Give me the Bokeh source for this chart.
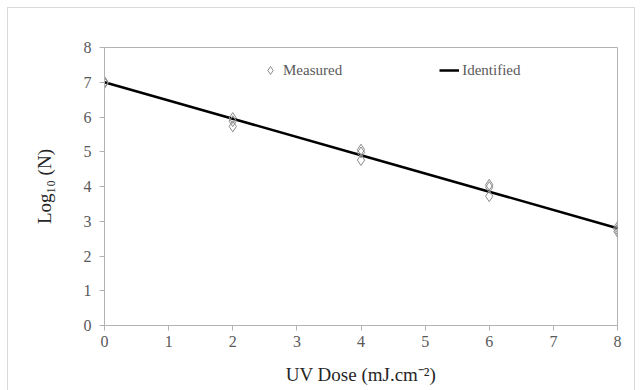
from bokeh.plotting import figure
from bokeh.models import ColumnDataSource, Range1d, FixedTicker, Legend, LegendItem, InlineStyleSheet
from bokeh.embed import file_html
from bokeh.resources import INLINE

# Data
dose_measured = [0, 0, 0, 2, 2, 2, 4, 4, 4, 6, 6, 6, 8, 8, 8]
log_measured = [7.0, 7.0, 6.98, 5.97, 5.88, 5.73, 5.06, 4.98, 4.76, 4.05, 3.98, 3.72, 2.83, 2.76, 2.70]
dose_identified = [0, 2, 4, 6, 8]
log_identified = [7.0, 5.95, 4.9, 3.85, 2.8]
x_ticks = [0, 1, 2, 3, 4, 5, 6, 7, 8]
y_ticks = [0, 1, 2, 3, 4, 5, 6, 7, 8]

FONT = "Liberation Serif"
GRAY = "#595959"
AXIS = "#B3B3B3"

p = figure(width=641, height=390, output_backend="svg", toolbar_location=None,
           x_range=Range1d(0, 8), y_range=Range1d(0, 8),
           min_border_left=104, min_border_right=24, min_border_top=47, min_border_bottom=65)
p.grid.visible = False
p.outline_line_color = AXIS
p.outline_line_width = 1

# outer chart-area border (drawn via CSS on the plot host)
p.stylesheets = [InlineStyleSheet(css="""
:host { position: relative; }
:host::after {
  content: '';
  position: absolute;
  left: 7px; top: 7px; width: 626px; height: 400px;
  border: 1px solid #D9D9D9;
  pointer-events: none;
  z-index: 10;
}
""")]

for ax in (p.xaxis[0], p.yaxis[0]):
    ax.axis_line_color = AXIS
    ax.major_tick_line_color = AXIS
    ax.major_tick_in = 0
    ax.major_tick_out = 5
    ax.minor_tick_line_color = None
    ax.major_label_text_font = FONT
    ax.major_label_text_font_size = "16px"
    ax.major_label_text_color = GRAY
    ax.axis_label_text_font = FONT
    ax.axis_label_text_font_style = "normal"
    ax.axis_label_text_font_size = "19px"
    ax.axis_label_text_color = "#262626"

p.xaxis.ticker = FixedTicker(ticks=x_ticks)
p.yaxis.ticker = FixedTicker(ticks=y_ticks)
p.xaxis.axis_label = "UV Dose (mJ.cm\u207b\u00b2)"
p.yaxis.axis_label = "Log\u2081\u2080 (N)"
p.xaxis.major_label_standoff = 5
p.yaxis.major_label_standoff = 8
p.xaxis.axis_label_standoff = 14
p.yaxis.axis_label_standoff = 26

src_m = ColumnDataSource(dict(x=dose_measured, y=log_measured))
src_i = ColumnDataSource(dict(x=dose_identified, y=log_identified))

r_line = p.line("x", "y", source=src_i, line_color="black", line_width=2.5)
r_pts = p.scatter("x", "y", source=src_m, marker="diamond", size=11,
                  fill_color=None, line_color="#8C8C8C", line_width=1)

legend = Legend(items=[LegendItem(label="Measured", renderers=[r_pts]),
                       LegendItem(label="Identified", renderers=[r_line])],
                orientation="horizontal", location=(156, 245),
                border_line_color=None, background_fill_alpha=0,
                label_text_font=FONT, label_text_font_size="15px",
                label_text_color=GRAY, glyph_width=20, glyph_height=20,
                label_standoff=3, spacing=97, padding=0, margin=0,
                label_height=20)
p.add_layout(legend, "center")

open("out.html", "w").write(file_html(p, INLINE))
